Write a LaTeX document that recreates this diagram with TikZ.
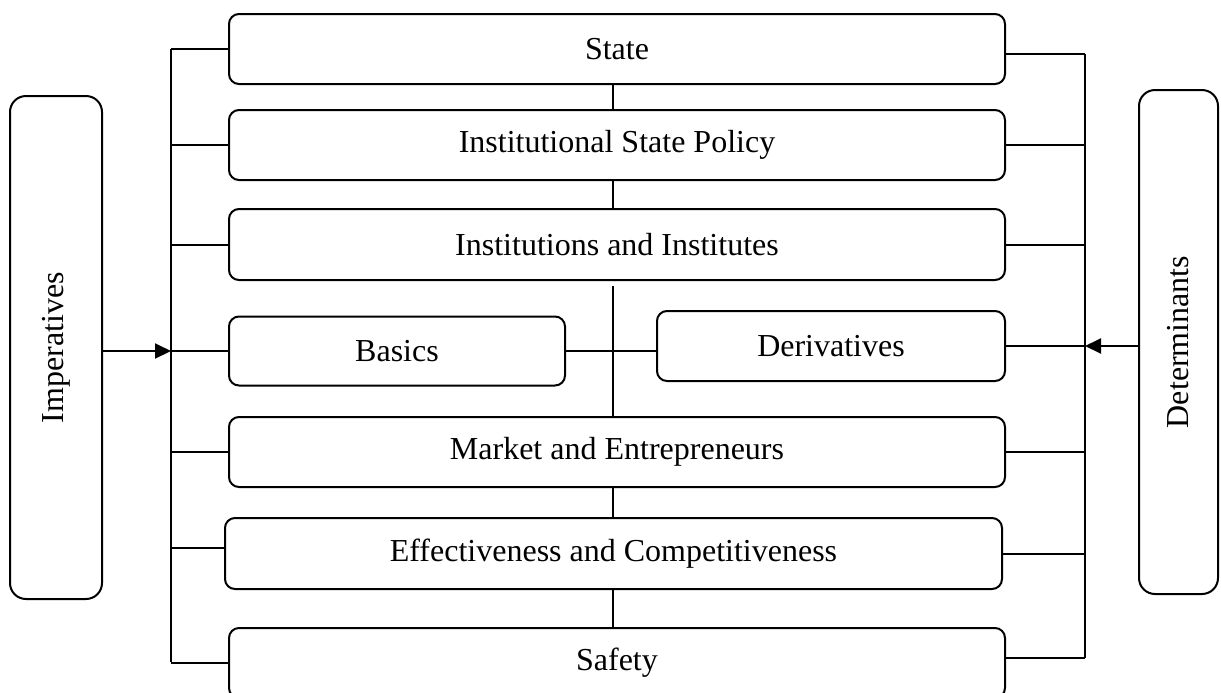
\documentclass[tikz,border=0pt]{standalone}
\usepackage{fontspec}
\setmainfont{Liberation Serif}
\usetikzlibrary{arrows.meta}

\begin{document}
\begin{tikzpicture}[x=0.5pt, y=-0.5pt,
every edge/.style = {draw=black, line width=1pt},
 blk/.style args = {#1/#2}{%
      rectangle, draw, line width=1pt, rounded corners=5pt,
      minimum width=#1*0.5pt, minimum height=#2*0.5pt,
      inner sep=0pt, font=\fontsize{16}{19}\selectfont},
 side/.style = {blk=#1, rounded corners=8pt, rotate=90},
 arr/.style = {-{Triangle[length=8pt, width=7.5pt]}}
                    ]
\useasboundingbox (0,0) rectangle (1221,692);
\node (S)  [blk=776/70]  at (617, 49)    {State};
\node (P)  [blk=776/70]  at (617,145)    {Institutional State Policy};
\node (I)  [blk=776/71]  at (617,244.5)  {Institutions and Institutes};
\node (B)  [blk=336/69]  at (397,351)    {Basics};
\node (D)  [blk=348/70]  at (831,346)    {Derivatives};
\node (M)  [blk=776/70]  at (617,452)    {Market and Entrepreneurs};
\node (E)  [blk=777/71]  at (613.5,553.5) {Effectiveness and Competitiveness};
\node (F)  [blk=776/70]  at (617,663)    {Safety};
\node (Im) [side=503/92] at (56,347.5)   {Imperatives};
\node (De) [side=504/79] at (1178.5,342) {Determinants};
 %
\coordinate (L1)  at (171,49);
\coordinate (L2)  at (171,662);
\coordinate (R1)  at (1085,54);
\coordinate (R2)  at (1085,658);
\coordinate (mid) at (613,0);
 %
\path   (L1) edge (L2)
        (R1) edge (R2)
        (S.west) edge (S.west -| L1)
        (P.west) edge (P.west -| L1)
        (I.west) edge (I.west -| L1)
        (B.west) edge (B.west -| L1)
        (M.west) edge (M.west -| L1)
        ([yshift=3pt]E.west) edge ([yshift=3pt]E.west -| L1)
        (F.west) edge (F.west -| L1)
        ([yshift=-2.5pt]S.east) edge (R1)
        (P.east) edge (P.east -| R1)
        (I.east) edge (I.east -| R1)
        (D.east) edge (D.east -| R1)
        (M.east) edge (M.east -| R1)
        (E.east) edge (E.east -| R1)
        ([yshift=2.5pt]F.east) edge (R2)
        (S.south -| mid) edge (P.north -| mid)
        (P.south -| mid) edge (I.north -| mid)
        ([yshift=-2.5pt]I.south -| mid) edge (M.north -| mid)
        (M.south -| mid) edge (E.north -| mid)
        (E.south -| mid) edge (F.north -| mid)
        (B.east) edge (D.west |- B.east)
        (Im.south |- B.west) edge[arr] (B.west -| L1)
        (De.north |- D.east) edge[arr] (D.east -| R1);
\end{tikzpicture}
\end{document}
